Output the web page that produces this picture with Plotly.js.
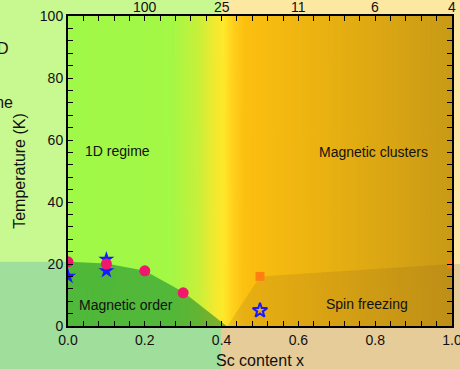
<!DOCTYPE html>
<html>
<head>
<meta charset="utf-8">
<script src="https://cdn.plot.ly/plotly-3.0.1.min.js"></script>
<style>html,body{margin:0;padding:0;overflow:hidden;}#chart{width:460px;height:369px;}</style>
</head>
<body>
<div id="chart"></div>
<script>
// ---- data ----
const xRange = [0, 1];
const yRange = [0, 100];
// tick marks (major + minor) and their labels
const xTickVals = [0, 0.04, 0.08, 0.12, 0.16, 0.2, 0.24, 0.28, 0.32, 0.36, 0.4, 0.44, 0.48, 0.52, 0.56,
  0.6, 0.64, 0.68, 0.72, 0.76, 0.8, 0.84, 0.88, 0.92, 0.96, 1.0];
const xTickText = ['0.0', '', '', '', '', '0.2', '', '', '', '', '0.4', '', '', '', '',
  '0.6', '', '', '', '', '0.8', '', '', '', '', '1.0'];
const yTickVals = [0, 4, 8, 12, 16, 20, 24, 28, 32, 36, 40, 44, 48, 52, 56,
  60, 64, 68, 72, 76, 80, 84, 88, 92, 96, 100];
const yTickText = ['0', '', '', '', '', '20', '', '', '', '', '40', '', '', '', '',
  '60', '', '', '', '', '80', '', '', '', '', '100'];
const topTickVals = [0.2, 0.4, 0.6, 0.8, 1.0];
const topTickText = ['100', '25', '11', '6', '4'];

// Magnetic order phase boundary
const orderX = [0, 0.1, 0.2, 0.3, 0.413];
const orderY = [20.7, 20.2, 17.8, 11, 0];
// Spin freezing boundary
const freezeX = [0.415, 0.5, 1.0];
const freezeY = [0, 16, 20];

// measured points
const circleX = [0, 0.1, 0.2, 0.3];
const circleY = [20.7, 20, 17.8, 10.7];
const starX = [0, 0.1, 0.1];
const starY = [16, 21.5, 17.8];
const openStarX = [0.5];
const openStarY = [5];
const squareX = [0.5, 1.0];
const squareY = [16, 20];

// region labels
const labelText = ['1D regime', 'Magnetic clusters', 'Magnetic order', 'Spin freezing'];
const labelX = [0.13, 0.795, 0.151, 0.778];
const labelY = [56.5, 56, 6.8, 7.1];

// background colour stops (position along x, colour)
const gradStops = [
  [0, '#a0f848'], [0.27, '#a4f846'], [0.34, '#c8f03a'], [0.38, '#f0ea30'],
  [0.405, '#ffe82a'], [0.43, '#ffd01c'], [0.46, '#fcc010'], [0.6, '#f0b610'], [1, '#c99a16']];

function gradientImage() {
  const c = document.createElement('canvas');
  c.width = 400; c.height = 4;
  const ctx = c.getContext('2d');
  const g = ctx.createLinearGradient(0, 0, 400, 0);
  gradStops.forEach(s => g.addColorStop(s[0], s[1]));
  ctx.fillStyle = g;
  ctx.fillRect(0, 0, 400, 4);
  return c.toDataURL('image/png');
}

// ---- traces ----
const orderRegion = {
  x: [...orderX, orderX[0]],
  y: [...orderY, 0],
  mode: 'lines', line: {width: 0}, fill: 'toself',
  fillcolor: 'rgba(0,120,44,0.5)', hoverinfo: 'skip', showlegend: false
};
const freezeRegion = {
  x: [...freezeX, freezeX[freezeX.length - 1], freezeX[0]],
  y: [...freezeY, 0, 0],
  mode: 'lines', line: {width: 0}, fill: 'toself',
  fillcolor: 'rgba(130,90,30,0.16)', hoverinfo: 'skip', showlegend: false
};
const stars = {
  x: starX, y: starY, mode: 'markers',
  marker: {symbol: 'star', size: 12, color: '#1a1aff', line: {width: 0}}, showlegend: false
};
const circles = {
  x: circleX, y: circleY, mode: 'markers',
  marker: {symbol: 'circle', size: 11, color: '#f0186c', line: {width: 0}}, showlegend: false
};
const openStar = {
  x: openStarX, y: openStarY, mode: 'markers',
  marker: {symbol: 'star-open', size: 11, color: '#1a1aff', line: {width: 2, color: '#1a1aff'}}, showlegend: false
};
const squares = {
  x: squareX, y: squareY, mode: 'markers',
  marker: {symbol: 'square', size: 9, color: '#ff8010', line: {width: 0}}, showlegend: false
};

const font = {family: 'Liberation Sans, Arial, sans-serif', color: '#111'};

const annotations = labelText.map((t, i) => ({
  x: labelX[i], y: labelY[i], xref: 'x', yref: 'y', text: t, showarrow: false,
  font: Object.assign({}, font, {size: 14})
}));
// top axis labels
topTickVals.forEach((v, i) => annotations.push({
  x: v, y: 1, xref: 'x', yref: 'paper', yanchor: 'bottom', text: topTickText[i], showarrow: false,
  yshift: -1, font: Object.assign({}, font, {size: 14})
}));
annotations.push({x: -0.151, y: 0.93, xref: 'paper', yref: 'paper', xanchor: 'right', text: '1D',
  showarrow: false, font: Object.assign({}, font, {size: 16})});
annotations.push({x: -0.138, y: 0.755, xref: 'paper', yref: 'paper', xanchor: 'right', text: 'regime',
  showarrow: false, font: Object.assign({}, font, {size: 16})});

const shapes = [
  {type: 'rect', xref: 'paper', yref: 'paper', x0: 0.4, x1: 1.3, y0: -0.3, y1: 1.3,
   fillcolor: '#fde8a2', line: {width: 0}, layer: 'below'},
  {type: 'rect', xref: 'paper', yref: 'paper', x0: -0.3, x1: 0.4, y0: -0.3, y1: 0.207,
   fillcolor: '#a0de9c', line: {width: 0}, layer: 'below'},
  {type: 'path', xref: 'paper', yref: 'paper',
   path: 'M0.4,-0.3 L1.3,-0.3 L1.3,0.2 L1,0.2 L1,0 L0.4,0 Z',
   fillcolor: '#e6cc98', line: {width: 0}, layer: 'below'}
];

const axisCommon = {
  showgrid: false, zeroline: false, showline: true, linecolor: '#000', linewidth: 2,
  ticks: 'inside', ticklen: 5, tickwidth: 1, tickcolor: '#000', mirror: 'ticks',
  tickfont: Object.assign({}, font, {size: 14}), ticklabeloverflow: 'allow'
};

const layout = {
  width: 460, height: 369,
  margin: {l: 68, r: 8, t: 16, b: 43},
  paper_bgcolor: '#c8f890', plot_bgcolor: 'rgba(0,0,0,0)',
  showlegend: false,
  xaxis: Object.assign({}, axisCommon, {
    range: xRange, tickmode: 'array', tickvals: xTickVals, ticktext: xTickText,
    title: {text: 'Sc content x', font: Object.assign({}, font, {size: 16})}
  }),
  yaxis: Object.assign({}, axisCommon, {
    range: yRange, tickmode: 'array', tickvals: yTickVals, ticktext: yTickText,
    title: {text: 'Temperature (K)', font: Object.assign({}, font, {size: 16})}
  }),
  images: [{source: gradientImage(), xref: 'x', yref: 'y', x: xRange[0], y: yRange[1],
    sizex: xRange[1] - xRange[0], sizey: yRange[1] - yRange[0], sizing: 'stretch', layer: 'below'}],
  shapes: shapes,
  annotations: annotations
};

Plotly.newPlot('chart', [orderRegion, freezeRegion, stars, circles, openStar, squares], layout,
  {displayModeBar: false, staticPlot: true});
</script>
</body>
</html>
